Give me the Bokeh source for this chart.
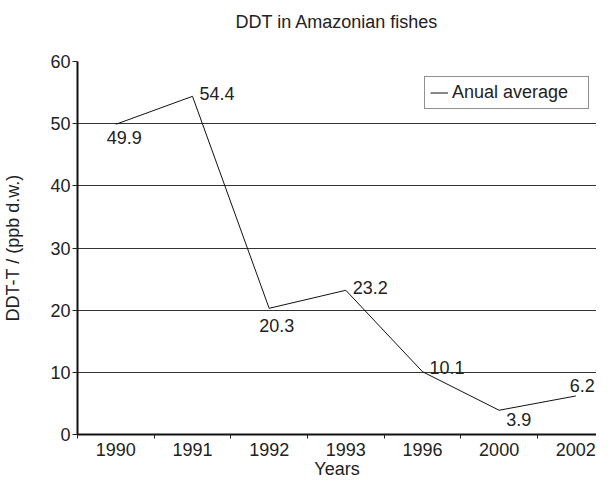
from bokeh.plotting import figure
from bokeh.models import ColumnDataSource, FixedTicker, Range1d, Legend, LegendItem
from bokeh.core.properties import value
from bokeh.embed import file_html
from bokeh.resources import INLINE

# ---- data ----
years = ["1990", "1991", "1992", "1993", "1996", "2000", "2002"]
ddt_values = [49.9, 54.4, 20.3, 23.2, 10.1, 3.9, 6.2]
y_ticks = [0, 10, 20, 30, 40, 50, 60]
title_text = "DDT in Amazonian fishes"
x_title = "Years"
y_title = "DDT-T / (ppb d.w.)"
legend_label = "Anual average"

# ---- label placement (style) ----
label_dx = [-9, 7, -10, 7, 7, 7, -6]
label_dy = [13, -3, 17, -3, -4, 9, -10]

FONT = "Liberation Sans"
TXT = "#222222"

xs = [i + 0.5 for i in range(len(years))]
src = ColumnDataSource(dict(
    x=xs, y=ddt_values,
    lab=[f"{v:.1f}" for v in ddt_values],
    dx=label_dx, dy=label_dy,
))

p = figure(width=596, height=482, output_backend="svg", toolbar_location=None,
           x_range=Range1d(0, 6.77), y_range=Range1d(0, 60),
           min_border_left=70, min_border_right=0, min_border_top=61, min_border_bottom=48)
p.background_fill_color = "white"
p.border_fill_color = "white"
p.outline_line_color = None

# title: a blank second line keeps the title high above the frame
p.title.text = title_text + "\n "
p.title.align = "center"
p.title.vertical_align = "top"
p.title.standoff = 16
p.title.text_font = FONT
p.title.text_font_size = "18px"
p.title.text_font_style = "normal"
p.title.text_color = TXT

# x axis: ticks on category boundaries, labels at centres
p.xaxis.ticker = FixedTicker(ticks=xs, minor_ticks=list(range(len(years) + 1)))
p.xaxis.major_label_overrides = {x: y for x, y in zip(xs, years)}
p.xaxis.major_tick_out = 0
p.xaxis.major_tick_in = 0
p.xaxis.minor_tick_out = 4
p.xaxis.minor_tick_in = 0
p.xaxis.minor_tick_line_color = "#222222"
p.xaxis.axis_line_width = 2
p.xaxis.axis_line_color = "#111111"
p.xaxis.major_label_standoff = 4
p.xaxis.axis_label = x_title
p.xaxis.axis_label_standoff = 0

# y axis
p.yaxis.ticker = FixedTicker(ticks=y_ticks)
p.yaxis.major_tick_out = 5
p.yaxis.major_tick_in = 0
p.yaxis.minor_tick_line_color = None
p.yaxis.axis_line_width = 2
p.yaxis.axis_line_color = "#111111"
p.yaxis.major_tick_line_color = "#222222"
p.yaxis.major_label_standoff = 2
p.yaxis.axis_label = y_title
p.yaxis.axis_label_standoff = 24

for ax in (p.xaxis, p.yaxis):
    ax.major_label_text_font = FONT
    ax.major_label_text_font_size = "18px"
    ax.major_label_text_color = TXT
    ax.axis_label_text_font = FONT
    ax.axis_label_text_font_size = "18px"
    ax.axis_label_text_font_style = "normal"
    ax.axis_label_text_color = TXT

p.xgrid.grid_line_color = None
p.ygrid.grid_line_color = "#333333"
p.ygrid.grid_line_width = 1

line = p.line("x", "y", source=src, line_color="#111111", line_width=1)

p.text("x", "y", text="lab", source=src, x_offset="dx", y_offset="dy",
       text_font=value(FONT), text_font_size="18px", text_color=TXT,
       text_align="left", text_baseline="middle")

legend = Legend(items=[LegendItem(label=legend_label, renderers=[line])],
                location=(347, 325), orientation="vertical",
                padding=5, margin=0, spacing=0,
                glyph_width=18, glyph_height=15, label_height=15, label_width=131,
                label_standoff=4,
                label_text_font=FONT, label_text_font_size="18px", label_text_color=TXT,
                border_line_color="#222222", border_line_width=1,
                background_fill_color="white", background_fill_alpha=1.0)
p.add_layout(legend)

open("out.html", "w").write(file_html(p, INLINE))
